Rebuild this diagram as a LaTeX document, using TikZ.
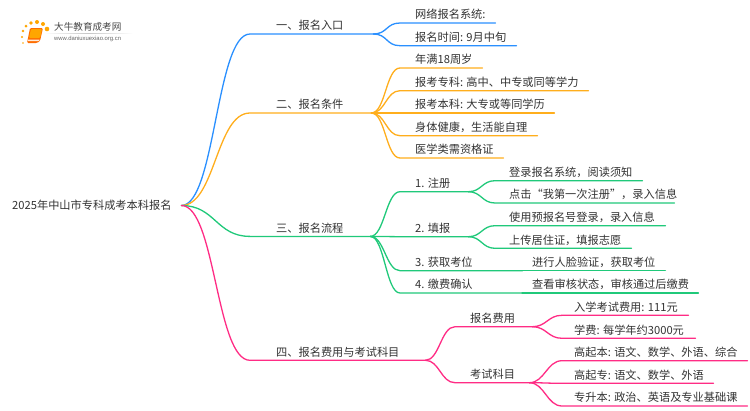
\documentclass[tikz,border=0pt]{standalone}
\usepackage{fontspec}
\setmainfont{Noto Sans CJK SC}
\newfontfamily\urlfont{Liberation Sans}
\definecolor{cblue}{HTML}{2A90FF}
\definecolor{corange}{HTML}{FFAE1C}
\definecolor{cgreen}{HTML}{20C97A}
\definecolor{cpink}{HTML}{FF2C85}
\definecolor{ctext}{HTML}{333333}
\tikzset{
  lbl/.style={inner sep=0pt,anchor=south west,text=ctext,font=\fontsize{11.2pt}{13pt}\selectfont,text height=8pt,text depth=3.9pt},
  conn/.style={line width=1.3pt,line cap=round,line join=round}
}
% name, x1, x2, y of line, text offset, text
\newcommand{\lblnode}[6]{%
  \pgfmathsetlengthmacro{\lblw}{(#3-#2)*1pt}%
  \node[lbl] (#1) at (#2,-#4) {\makebox[\lblw][l]{\hspace{#5pt}#6}};}
\newcommand{\linkit}[4]{% colour, parent, child, control distance
  \draw[conn,#1] (#2.south east) .. controls +(#4,0) and +(-#4,0) .. (#3.south west) -- (#3.south east);}
\begin{document}
\begin{tikzpicture}[x=1pt,y=1pt]
\useasboundingbox (0,0) rectangle (750,-410);
\fill[white] (0,0) rectangle (750,-410);
% logo
\shade[left color=white,right color=white,middle color=black!22] (44,-33) rectangle (133,-33.7);
\foreach \p/\r/\c in {23/43/0.9,22/37/1.1,23/31/1.3,26/26/1.5,31/23/1.9,37/22/2.0,43/24/2.0,47/29/2.3}{
  \pgfmathsetmacro{\py}{-\r}
  \fill[orange!70!yellow] (\p,\py) circle (\c);
}
\fill[orange!85!red,rounded corners=1.2pt] (30,-28) -- (43,-28) -- (40,-41) -- (37,-43) -- (27,-43) -- cycle;
\fill[orange!70!yellow,rounded corners=1pt] (31,-29) -- (42,-29) -- (40,-38) -- (29,-38) -- cycle;
\fill[white!85!orange] (28,-39.5) -- (39.5,-39.5) -- (39,-41) -- (27.8,-41) -- cycle;
\node[inner sep=0pt,anchor=west,text=black!72] (logotitle) at (54,-27) {\fontsize{9.6pt}{11pt}\selectfont 大牛教育成考网};
\node[inner sep=0pt,anchor=west,text=black!60] (logourl) at (54,-39) {\urlfont\fontsize{5.9pt}{7pt}\selectfont www.daniuxuexiao.org.cn};
% root
\node[inner sep=0pt,anchor=west,text=ctext,font=\fontsize{11.2pt}{13pt}\selectfont,text width=169pt,align=left] (root) at (12,-205.5) {2025年中山市专科成考本科报名};
% branch 1
\lblnode{a}{250}{373}{34}{26}{一、报名入口}
\lblnode{a1}{400}{495}{23}{15}{网络报名系统:}
\lblnode{a2}{400}{516}{45.7}{15}{报名时间: 9月中旬}
\draw[conn,cblue] (root.east) .. controls +(34,0) and +(-34,0) .. (a.south west) -- (a.south east);
\linkit{cblue}{a}{a1}{14}
\linkit{cblue}{a}{a2}{14}
% branch 2
\lblnode{b}{250}{371}{113}{26}{二、报名条件}
\lblnode{b1}{400}{482}{68}{15}{年满18周岁}
\lblnode{b2}{400}{588}{90.7}{15}{报考专科: 高中、中专或同等学力}
\lblnode{b3}{400}{554}{113}{15}{报考本科: 大专或等同学历}
\lblnode{b4}{400}{537}{135.7}{15}{身体健康，生活能自理}
\lblnode{b5}{400}{503}{158}{15}{医学类需资格证}
\draw[conn,corange] (root.east) .. controls +(34,0) and +(-34,0) .. (b.south west) -- (b.south east);
\foreach \k in {b1,b2,b3,b4,b5}{\linkit{corange}{b}{\k}{14}}
% branch 3
\lblnode{c}{250}{370}{236.4}{26}{三、报名流程}
\lblnode{c1}{400}{468}{191.7}{15}{1. 注册}
\lblnode{c2}{400}{468}{236.7}{15}{2. 填报}
\lblnode{c3}{400}{522}{270.7}{15}{3. 获取考位}
\lblnode{c4}{400}{522}{293}{15}{4. 缴费确认}
\lblnode{c11}{495}{642}{180.7}{14}{登录报名系统，阅读须知}
\lblnode{c12}{495}{674}{203}{14}{点击“我第一次注册”，录入信息}
\lblnode{c21}{495}{665}{225.7}{14}{使用预报名号登录，录入信息}
\lblnode{c22}{495}{631}{248.3}{14}{上传居住证，填报志愿}
\lblnode{c31}{522}{665}{270.7}{10}{进行人脸验证，获取考位}
\lblnode{c41}{522}{698}{293}{10}{查看审核状态，审核通过后缴费}
\draw[conn,cgreen] (root.east) .. controls +(34,0) and +(-34,0) .. (c.south west) -- (c.south east);
\foreach \k in {c1,c2,c3,c4}{\linkit{cgreen}{c}{\k}{14}}
\linkit{cgreen}{c1}{c11}{13}
\linkit{cgreen}{c1}{c12}{13}
\linkit{cgreen}{c2}{c21}{13}
\linkit{cgreen}{c2}{c22}{13}
\draw[conn,cgreen] (c3.south east) -- (c31.south west) -- (c31.south east);
\draw[conn,cgreen] (c4.south east) -- (c41.south west) -- (c41.south east);
% branch 4
\lblnode{d}{250}{425}{360.3}{26}{四、报名费用与考试科目}
\lblnode{d1}{455}{532}{326.7}{15}{报名费用}
\lblnode{d2}{455}{529}{382.7}{15}{考试科目}
\lblnode{d11}{562}{688}{315.3}{12}{入学考试费用: 111元}
\lblnode{d12}{562}{695}{338.3}{12}{学费: 每学年约3000元}
\lblnode{d21}{562}{747}{360.7}{12}{高起本: 语文、数学、外语、综合}
\lblnode{d22}{562}{713}{383.3}{12}{高起专: 语文、数学、外语}
\lblnode{d23}{562}{747}{406}{12}{专升本: 政治、英语及专业基础课}
\draw[conn,cpink] (root.east) .. controls +(34,0) and +(-34,0) .. (d.south west) -- (d.south east);
\linkit{cpink}{d}{d1}{14}
\linkit{cpink}{d}{d2}{14}
\linkit{cpink}{d1}{d11}{14}
\linkit{cpink}{d1}{d12}{14}
\linkit{cpink}{d2}{d21}{15}
\linkit{cpink}{d2}{d22}{15}
\linkit{cpink}{d2}{d23}{15}
\end{tikzpicture}
\end{document}
